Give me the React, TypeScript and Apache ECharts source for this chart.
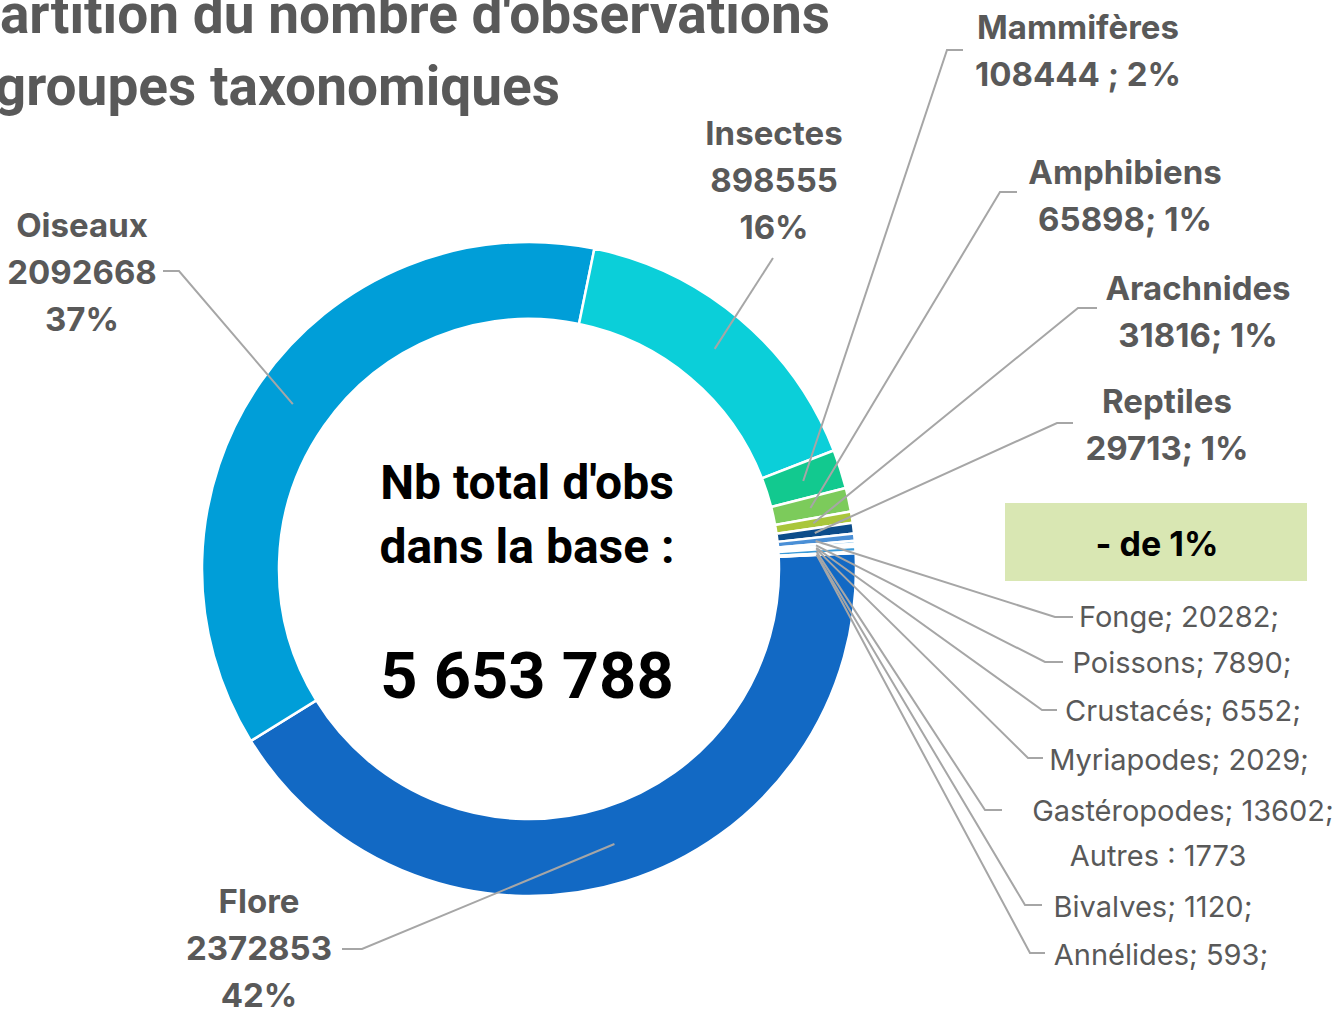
import React, { useEffect, useRef } from 'react';
import * as echarts from 'echarts';

// ---- Data ----
const categories = [
  'Flore', 'Oiseaux', 'Insectes', 'Mammifères', 'Amphibiens', 'Arachnides', 'Reptiles',
  'Fonge', 'Poissons', 'Crustacés', 'Myriapodes', 'Gastéropodes', 'Autres', 'Bivalves', 'Annélides',
];
const values = [
  2372853, 2092668, 898555, 108444, 65898, 31816, 29713,
  20282, 7890, 6552, 2029, 13602, 1773, 1120, 593,
];
// label text formats per category
const labelKinds = [
  'block', 'block', 'block', 'pairSpaced', 'pair', 'pair', 'pair',
  'small', 'small', 'small', 'small', 'small', 'plain', 'small', 'small',
];
const titleLines = ["Répartition du nombre d'observations", 'par groupes taxonomiques'];
const centerLines = ["Nb total d'obs", 'dans la base :'];
const smallNote = '- de 1%';

// ---- Styles / layout ----
const colors = [
  '#1269c4', '#009ed8', '#0bcfd9', '#12c98f', '#7ccb5b', '#a9c63b', '#0c4c8a',
  '#4a8fd6', '#5fb0e8', '#2f7fd0', '#7dbbe8', '#3a9ad8', '#9cc9ef', '#2a6fb8', '#6aa8e0',
];
const labelCenters = [
  [259, 948], [82, 272], [774, 180], [1078, 50], [1125, 195], [1198, 311], [1167, 424],
  [1179, 616], [1182, 662], [1183, 710], [1179, 759], [1183, 810], [1158, 855], [1153, 906], [1161, 954],
];
const leaderElbows: (number[] | null)[] = [
  [362, 949, 342, 949], [179, 271, 163, 271], [773, 258, 773, 258], [947, 50, 963, 50],
  [1000, 192, 1017, 192], [1078, 308, 1097, 308], [1057, 423, 1073, 423],
  [1055, 617, 1073, 617], [1045, 662, 1063, 662], [1042, 710, 1057, 710], [1028, 758, 1043, 758],
  [985, 810, 1002, 810], null, [1025, 905, 1042, 905], [1030, 953, 1045, 953],
];
const CX = 529;
const CY = 569;
const R_IN = 250;
const R_OUT = 327;
const R_MID = 288;

const GREY = '#595959';

function formatTotal(n: number) {
  return String(n).replace(/\B(?=(\d{3})+(?!\d))/g, ' ');
}

export default function App() {
  const ref = useRef<HTMLDivElement>(null);
  useEffect(() => {
    const chart = echarts.init(ref.current!, null, { renderer: 'svg' });
    const total = values.reduce((a, b) => a + b, 0);

    const ringData = categories.map((name, i) => ({
      name,
      value: values[i],
      itemStyle: { color: colors[i] },
    }));

    const labelData = categories.map((name, i) => {
      const small = labelKinds[i] === 'small' || labelKinds[i] === 'plain';
      return {
        name,
        value: values[i],
        label: small
          ? { fontWeight: 'normal', fontSize: 29, lineHeight: 34 }
          : { fontWeight: 'bold', fontSize: 33, lineHeight: 47 },
        labelLine: { show: leaderElbows[i] != null },
      };
    });

    const common = {
      type: 'pie',
      center: [CX, CY],
      radius: [R_IN, R_OUT],
      startAngle: 2.8,
      clockwise: true,
      avoidLabelOverlap: false,
      silent: true,
    };

    const option: any = {
      animation: false,
      backgroundColor: '#ffffff',
      series: [
        {
          ...common,
          z: 2,
          itemStyle: { borderColor: '#ffffff', borderWidth: 2.5 },
          label: { show: false },
          labelLine: { show: false },
          data: ringData,
        },
        {
          ...common,
          z: 5,
          itemStyle: { color: 'rgba(0,0,0,0)', borderWidth: 0 },
          label: {
            show: true,
            position: 'outside',
            color: GREY,
            fontFamily: 'Inter',
            align: 'center',
            formatter: (p: any) => {
              const k = labelKinds[p.dataIndex];
              const pct = Math.round(p.percent);
              if (k === 'block') return `${p.name}\n${p.value}\n${pct}%`;
              if (k === 'pairSpaced') return `${p.name}\n${p.value} ; ${pct}%`;
              if (k === 'pair') return `${p.name}\n${p.value}; ${pct}%`;
              if (k === 'plain') return `${p.name} : ${p.value}`;
              return `${p.name}; ${p.value};`;
            },
          },
          labelLine: {
            show: true,
            length: 10,
            length2: 10,
            smooth: false,
            lineStyle: { color: '#a6a6a6', width: 2 },
          },
          labelLayout: (params: any) => {
            const i = params.dataIndex;
            const [lx, ly] = labelCenters[i];
            const out: any = { x: lx, y: ly, align: 'center', verticalAlign: 'middle' };
            const e = leaderElbows[i];
            const pts = params.labelLinePoints;
            if (e && pts && pts[0]) {
              const k = R_MID / R_OUT;
              const sx = CX + (pts[0][0] - CX) * k;
              const sy = CY + (pts[0][1] - CY) * k;
              out.labelLinePoints = [[sx, sy], [e[0], e[1]], [e[2], e[3]]];
            }
            return out;
          },
          data: labelData,
        },
      ],
      graphic: [
        {
          type: 'text', x: 830, y: 14,
          style: { text: titleLines[0], fill: GREY, font: 'bold 55px Roboto', align: 'right', verticalAlign: 'middle' },
        },
        {
          type: 'text', x: 560, y: 86,
          style: { text: titleLines[1], fill: GREY, font: 'bold 55px Roboto', align: 'right', verticalAlign: 'middle' },
        },
        {
          type: 'text', x: 527, y: 482,
          style: { text: centerLines[0], fill: '#000000', font: 'bold 48px Roboto', align: 'center', verticalAlign: 'middle' },
        },
        {
          type: 'text', x: 527, y: 546,
          style: { text: centerLines[1], fill: '#000000', font: 'bold 48px Roboto', align: 'center', verticalAlign: 'middle' },
        },
        {
          type: 'text', x: 527, y: 676,
          style: { text: formatTotal(total), fill: '#000000', font: 'bold 65px Roboto', align: 'center', verticalAlign: 'middle' },
        },
        {
          type: 'rect', shape: { x: 1005, y: 503, width: 302, height: 78 },
          style: { fill: '#d9e7b3' },
        },
        {
          type: 'text', x: 1157, y: 543,
          style: { text: smallNote, fill: '#000000', font: 'bold 34px Inter', align: 'center', verticalAlign: 'middle' },
        },
      ],
    };
    chart.setOption(option);
    return () => chart.dispose();
  }, []);
  return (
    <div
      ref={ref}
      style={{ position: 'fixed', left: 0, top: 0, width: 1340, height: 1013, background: '#ffffff' }}
    />
  );
}
